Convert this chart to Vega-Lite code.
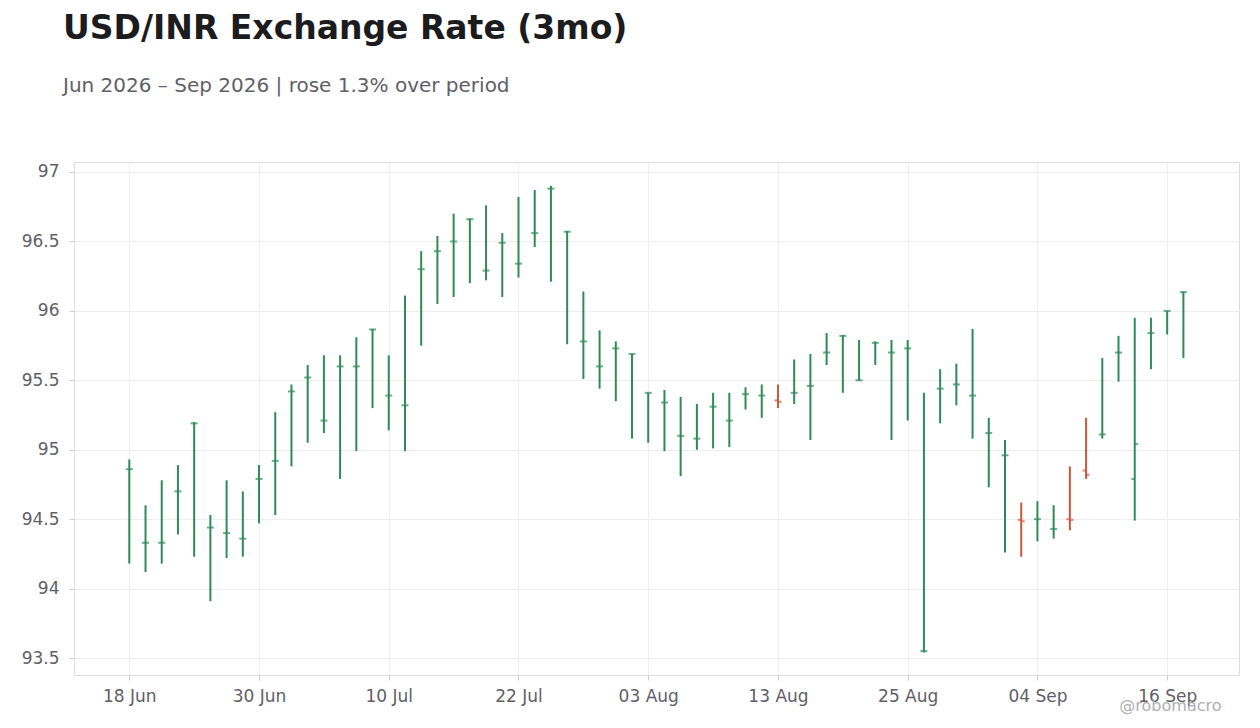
{
  "$schema": "https://vega.github.io/schema/vega-lite/v6.json",
  "autosize": {"type": "none"},
  "width": 1165,
  "height": 513,
  "padding": {"left": 74, "top": 162, "right": 21, "bottom": 53},
  "background": "white",
  "title": {
    "text": "USD/INR Exchange Rate (3mo)",
    "subtitle": "Jun 2026 – Sep 2026 | rose 1.3% over period",
    "anchor": "start",
    "frame": "group",
    "dx": -11,
    "offset": 66,
    "fontSize": 33,
    "fontWeight": "bold",
    "color": "#1c1c1f",
    "subtitleFontSize": 20,
    "subtitleColor": "#5f6068",
    "subtitlePadding": 30
  },
  "config": {
    "font": "DejaVu Sans",
    "view": {"stroke": "#dddddd"},
    "axis": {
      "domain": false,
      "grid": true,
      "gridColor": "#eeeeee",
      "tickSize": 5,
      "tickColor": "#cccccc",
      "labelFontSize": 17,
      "labelColor": "#5f6068"
    }
  },
  "data": {
    "values": [
      {"day": 0, "date": "2026-06-18", "open": 94.86, "high": 94.93, "low": 94.18, "close": 94.86},
      {"day": 1, "date": "2026-06-19", "open": 94.33, "high": 94.60, "low": 94.12, "close": 94.33},
      {"day": 2, "date": "2026-06-22", "open": 94.33, "high": 94.78, "low": 94.18, "close": 94.33},
      {"day": 3, "date": "2026-06-23", "open": 94.70, "high": 94.89, "low": 94.39, "close": 94.70},
      {"day": 4, "date": "2026-06-24", "open": 95.19, "high": 95.20, "low": 94.23, "close": 95.19},
      {"day": 5, "date": "2026-06-25", "open": 94.44, "high": 94.53, "low": 93.91, "close": 94.44},
      {"day": 6, "date": "2026-06-26", "open": 94.40, "high": 94.78, "low": 94.22, "close": 94.40},
      {"day": 7, "date": "2026-06-29", "open": 94.36, "high": 94.70, "low": 94.23, "close": 94.36},
      {"day": 8, "date": "2026-06-30", "open": 94.79, "high": 94.89, "low": 94.47, "close": 94.79},
      {"day": 9, "date": "2026-07-01", "open": 94.92, "high": 95.27, "low": 94.53, "close": 94.92},
      {"day": 10, "date": "2026-07-02", "open": 95.42, "high": 95.47, "low": 94.88, "close": 95.42},
      {"day": 11, "date": "2026-07-03", "open": 95.52, "high": 95.61, "low": 95.05, "close": 95.52},
      {"day": 12, "date": "2026-07-06", "open": 95.21, "high": 95.68, "low": 95.12, "close": 95.21},
      {"day": 13, "date": "2026-07-07", "open": 95.60, "high": 95.68, "low": 94.79, "close": 95.60},
      {"day": 14, "date": "2026-07-08", "open": 95.60, "high": 95.81, "low": 94.99, "close": 95.60},
      {"day": 15, "date": "2026-07-09", "open": 95.866, "high": 95.87, "low": 95.30, "close": 95.866},
      {"day": 16, "date": "2026-07-10", "open": 95.39, "high": 95.68, "low": 95.14, "close": 95.39},
      {"day": 17, "date": "2026-07-13", "open": 95.32, "high": 96.11, "low": 94.99, "close": 95.32},
      {"day": 18, "date": "2026-07-14", "open": 96.30, "high": 96.43, "low": 95.75, "close": 96.30},
      {"day": 19, "date": "2026-07-15", "open": 96.43, "high": 96.54, "low": 96.05, "close": 96.43},
      {"day": 20, "date": "2026-07-16", "open": 96.50, "high": 96.70, "low": 96.10, "close": 96.50},
      {"day": 21, "date": "2026-07-17", "open": 96.66, "high": 96.665, "low": 96.20, "close": 96.66},
      {"day": 22, "date": "2026-07-20", "open": 96.29, "high": 96.76, "low": 96.22, "close": 96.29},
      {"day": 23, "date": "2026-07-21", "open": 96.49, "high": 96.56, "low": 96.10, "close": 96.49},
      {"day": 24, "date": "2026-07-22", "open": 96.34, "high": 96.82, "low": 96.24, "close": 96.34},
      {"day": 25, "date": "2026-07-23", "open": 96.56, "high": 96.87, "low": 96.46, "close": 96.56},
      {"day": 26, "date": "2026-07-24", "open": 96.88, "high": 96.90, "low": 96.21, "close": 96.88},
      {"day": 27, "date": "2026-07-27", "open": 96.57, "high": 96.575, "low": 95.76, "close": 96.57},
      {"day": 28, "date": "2026-07-28", "open": 95.78, "high": 96.14, "low": 95.51, "close": 95.78},
      {"day": 29, "date": "2026-07-29", "open": 95.60, "high": 95.86, "low": 95.44, "close": 95.60},
      {"day": 30, "date": "2026-07-30", "open": 95.73, "high": 95.78, "low": 95.35, "close": 95.73},
      {"day": 31, "date": "2026-07-31", "open": 95.69, "high": 95.69, "low": 95.08, "close": 95.69},
      {"day": 32, "date": "2026-08-03", "open": 95.41, "high": 95.41, "low": 95.05, "close": 95.41},
      {"day": 33, "date": "2026-08-04", "open": 95.34, "high": 95.43, "low": 94.99, "close": 95.34},
      {"day": 34, "date": "2026-08-05", "open": 95.10, "high": 95.38, "low": 94.81, "close": 95.10},
      {"day": 35, "date": "2026-08-06", "open": 95.08, "high": 95.33, "low": 95.00, "close": 95.08},
      {"day": 36, "date": "2026-08-07", "open": 95.31, "high": 95.41, "low": 95.01, "close": 95.31},
      {"day": 37, "date": "2026-08-10", "open": 95.21, "high": 95.41, "low": 95.02, "close": 95.21},
      {"day": 38, "date": "2026-08-11", "open": 95.40, "high": 95.45, "low": 95.29, "close": 95.40},
      {"day": 39, "date": "2026-08-12", "open": 95.39, "high": 95.47, "low": 95.23, "close": 95.39},
      {"day": 40, "date": "2026-08-13", "open": 95.355, "high": 95.47, "low": 95.30, "close": 95.345},
      {"day": 41, "date": "2026-08-14", "open": 95.41, "high": 95.65, "low": 95.33, "close": 95.41},
      {"day": 42, "date": "2026-08-17", "open": 95.46, "high": 95.69, "low": 95.07, "close": 95.46},
      {"day": 43, "date": "2026-08-18", "open": 95.70, "high": 95.84, "low": 95.61, "close": 95.70},
      {"day": 44, "date": "2026-08-19", "open": 95.82, "high": 95.825, "low": 95.41, "close": 95.82},
      {"day": 45, "date": "2026-08-20", "open": 95.50, "high": 95.79, "low": 95.50, "close": 95.50},
      {"day": 46, "date": "2026-08-21", "open": 95.77, "high": 95.78, "low": 95.61, "close": 95.77},
      {"day": 47, "date": "2026-08-24", "open": 95.70, "high": 95.79, "low": 95.07, "close": 95.70},
      {"day": 48, "date": "2026-08-25", "open": 95.73, "high": 95.79, "low": 95.21, "close": 95.73},
      {"day": 49, "date": "2026-08-26", "open": 93.55, "high": 95.41, "low": 93.54, "close": 93.55},
      {"day": 50, "date": "2026-08-27", "open": 95.44, "high": 95.58, "low": 95.19, "close": 95.44},
      {"day": 51, "date": "2026-08-28", "open": 95.47, "high": 95.62, "low": 95.32, "close": 95.47},
      {"day": 52, "date": "2026-08-31", "open": 95.39, "high": 95.87, "low": 95.08, "close": 95.39},
      {"day": 53, "date": "2026-09-01", "open": 95.12, "high": 95.23, "low": 94.73, "close": 95.12},
      {"day": 54, "date": "2026-09-02", "open": 94.96, "high": 95.07, "low": 94.26, "close": 94.96},
      {"day": 55, "date": "2026-09-03", "open": 94.495, "high": 94.62, "low": 94.23, "close": 94.485},
      {"day": 56, "date": "2026-09-04", "open": 94.50, "high": 94.63, "low": 94.34, "close": 94.50},
      {"day": 57, "date": "2026-09-07", "open": 94.43, "high": 94.60, "low": 94.36, "close": 94.43},
      {"day": 58, "date": "2026-09-08", "open": 94.50, "high": 94.88, "low": 94.42, "close": 94.495},
      {"day": 59, "date": "2026-09-09", "open": 94.85, "high": 95.23, "low": 94.79, "close": 94.82},
      {"day": 60, "date": "2026-09-10", "open": 95.11, "high": 95.66, "low": 95.08, "close": 95.11},
      {"day": 61, "date": "2026-09-11", "open": 95.70, "high": 95.82, "low": 95.49, "close": 95.70},
      {"day": 62, "date": "2026-09-14", "open": 94.79, "high": 95.95, "low": 94.49, "close": 95.04},
      {"day": 63, "date": "2026-09-15", "open": 95.84, "high": 95.95, "low": 95.58, "close": 95.84},
      {"day": 64, "date": "2026-09-16", "open": 96.00, "high": 96.00, "low": 95.83, "close": 96.00},
      {"day": 65, "date": "2026-09-17", "open": 96.135, "high": 96.14, "low": 95.66, "close": 96.135}
    ]
  },
  "encoding": {
    "x": {
      "field": "day",
      "type": "quantitative",
      "scale": {"domain": [-3.41, 68.43], "nice": false, "zero": false},
      "axis": {
        "values": [0, 8, 16, 24, 32, 40, 48, 56, 64],
        "labelExpr": "['18 Jun', '30 Jun', '10 Jul', '22 Jul', '03 Aug', '13 Aug', '25 Aug', '04 Sep', '16 Sep'][datum.value / 8]",
        "labelPadding": 8,
        "title": "@robomacro",
        "titleX": 1147,
        "titleY": 22,
        "titleAlign": "right",
        "titleBaseline": "top",
        "titleFontSize": 16,
        "titleFontWeight": "normal",
        "titleColor": "#b0b0b0"
      }
    },
    "color": {
      "condition": {"test": "datum.close < datum.open", "value": "#c9573c"},
      "value": "#2e8b57"
    }
  },
  "layer": [
    {
      "mark": {"type": "rule", "strokeWidth": 2},
      "encoding": {
        "y": {
          "field": "low",
          "type": "quantitative",
          "title": null,
          "scale": {"domain": [93.378, 97.072], "nice": false, "zero": false},
          "axis": {
            "values": [93.5, 94, 94.5, 95, 95.5, 96, 96.5, 97],
            "format": "~g",
            "labelPadding": 10
          }
        },
        "y2": {"field": "high"}
      }
    },
    {
      "mark": {"type": "tick", "orient": "horizontal", "size": 3.5, "thickness": 2, "xOffset": -1.75},
      "encoding": {
        "y": {"field": "open", "type": "quantitative", "title": null}
      }
    },
    {
      "mark": {"type": "tick", "orient": "horizontal", "size": 3.5, "thickness": 2, "xOffset": 1.75},
      "encoding": {
        "y": {"field": "close", "type": "quantitative", "title": null}
      }
    }
  ]
}
